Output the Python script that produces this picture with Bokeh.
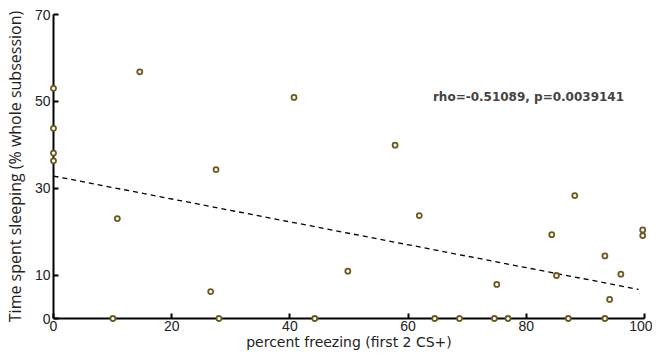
from bokeh.plotting import figure
from bokeh.models import Range1d, FixedTicker, ColumnDataSource, Label
from bokeh.embed import file_html
from bokeh.resources import INLINE

# data
freezing = [0, 0, 0, 0, 10.05, 10.8, 14.6, 26.6, 27.5, 28.0, 40.7, 44.2, 49.8,
            57.8, 61.9, 64.5, 68.7, 74.6, 75.0, 76.9, 84.3, 85.1, 87.1, 88.2,
            93.3, 93.3, 94.1, 96.0, 99.7, 99.7]
sleeping = [53.0, 43.8, 38.1, 36.3, 0, 23.0, 56.8, 6.2, 34.3, 0, 50.9, 0, 10.9,
            39.9, 23.7, 0, 0, 0, 7.85, 0, 19.3, 9.9, 0, 28.3,
            14.4, 0, 4.4, 10.2, 20.4, 19.1]
fit_x = [0, 99.0]
fit_y = [32.8, 6.7]
x_ticks = [0, 20, 40, 60, 80, 100]
y_ticks = [0, 10, 30, 50, 70]
stats_text = "rho=-0.51089, p=0.0039141"
stats_pos = (64.2, 50.9)

p = figure(width=652, height=352, output_backend="svg", toolbar_location=None,
           x_range=Range1d(0, 100), y_range=Range1d(0, 70),
           min_border_left=0, min_border_right=8, min_border_top=14, min_border_bottom=0)
p.outline_line_color = None
p.grid.visible = False
p.background_fill_color = "white"
p.border_fill_color = "white"

for ax in (p.xaxis[0], p.yaxis[0]):
    ax.axis_line_width = 2
    ax.axis_line_color = "black"
    ax.major_tick_line_width = 2
    ax.major_tick_in = 5
    ax.major_tick_out = 0
    ax.minor_tick_line_color = None
    ax.major_label_text_font = "Liberation Sans"
    ax.major_label_text_font_size = "14px"
    ax.major_label_text_color = "#222222"
    ax.axis_label_text_font_style = "normal"
    ax.axis_label_text_color = "#222222"

p.xaxis.ticker = FixedTicker(ticks=x_ticks)
p.yaxis.ticker = FixedTicker(ticks=y_ticks)
p.xaxis.axis_label = "percent freezing (first 2 CS+)"
p.xaxis.axis_label_text_font = "DejaVu Sans"
p.xaxis.axis_label_text_font_size = "14px"
p.xaxis.major_label_standoff = 2
p.xaxis.axis_label_standoff = 0
p.yaxis.axis_label = "Time spent sleeping (% whole subsession)"
p.yaxis.axis_label_text_font = "Open Sans"
p.yaxis.axis_label_text_font_size = "16px"
p.yaxis.major_label_standoff = 3
p.yaxis.axis_label_standoff = 6

p.line(fit_x, fit_y, line_color="black", line_width=1.3, line_dash="5 4")

src = ColumnDataSource(dict(x=freezing, y=sleeping))
p.scatter("x", "y", source=src, size=5, line_color="#6b5a20", line_width=1.8,
          fill_color="white", level="overlay")

p.add_layout(Label(x=stats_pos[0], y=stats_pos[1], text=stats_text,
                   text_font="DejaVu Sans", text_font_style="bold",
                   text_font_size="12px", text_baseline="middle", text_align="left"))

open("out.html", "w").write(file_html(p, INLINE))
